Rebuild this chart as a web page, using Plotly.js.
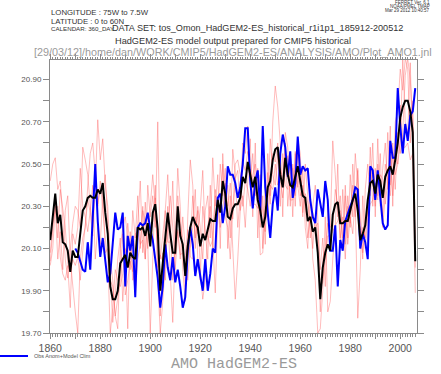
<!DOCTYPE html>
<html>
<head>
<meta charset="utf-8">
<script src="https://cdn.plot.ly/plotly-3.0.1.min.js"></script>
<style>html,body{margin:0;padding:0;background:#fff;}#plot{width:441px;height:374px;}</style>
</head>
<body>
<div id="plot"></div>
<script>
// Years 1860..2006 (annual means)
const yearStart = 1860;
const yearEnd = 2006;
const obsStart = 1870;

// Ensemble mean (black)
const ensembleMean = [
20.14,20.25,20.36,20.22,20.26,20.13,20.12,20.09,19.99,20.09,
20.06,20.06,20.17,20.28,20.30,20.34,20.35,20.34,20.34,20.38,
20.36,20.41,20.27,20.17,19.92,19.86,19.86,19.90,20.03,20.05,
20.07,20.01,20.08,20.06,20.05,20.20,20.19,20.20,20.16,20.22,
20.11,20.27,20.31,20.19,19.90,20.03,20.14,20.27,20.17,20.08,
20.08,20.30,20.16,20.12,19.97,20.11,20.20,20.25,20.22,20.20,
20.11,20.17,20.14,20.19,20.24,20.23,20.23,20.33,20.27,20.42,
20.36,20.25,20.24,20.29,20.31,20.31,20.34,20.44,20.41,20.51,
20.45,20.39,20.44,20.33,20.28,20.20,20.25,20.39,20.42,20.52,
20.57,20.58,20.45,20.39,20.53,20.45,20.40,20.39,20.44,20.49,
20.42,20.35,20.34,20.23,20.25,20.18,20.20,20.08,19.86,20.01,
20.08,20.12,20.09,20.26,20.31,20.32,20.22,20.22,20.23,20.23,
20.28,20.33,20.36,20.28,20.14,20.17,20.21,20.33,20.41,20.42,
20.36,20.45,20.42,20.34,20.44,20.47,20.49,20.45,20.52,20.60,
20.72,20.77,20.80,20.80,20.75,20.65,20.04];

// Obs Anom + Model Clim (blue), 1870..2006
const obsValues = [
20.10,20.08,20.04,20.00,19.99,20.13,20.00,20.23,20.50,20.23,
20.06,20.15,20.05,19.94,19.98,20.12,20.27,20.19,20.20,20.27,
19.92,20.16,20.09,20.16,19.87,20.20,20.22,20.21,20.22,20.27,
20.19,20.14,20.06,19.96,19.82,19.92,20.12,20.01,19.95,20.06,
19.94,20.00,19.92,19.82,19.87,20.09,20.20,20.12,19.97,20.05,
19.97,19.90,20.05,19.90,19.98,20.10,20.08,20.34,20.36,20.22,
20.30,20.49,20.45,20.45,20.41,20.34,20.39,20.50,20.67,20.67,
20.42,20.29,20.42,20.47,20.28,20.68,20.39,20.27,20.15,20.31,
20.39,20.28,20.55,20.64,20.58,20.44,20.56,20.34,20.41,20.63,
20.45,20.49,20.47,20.48,20.33,20.25,20.22,20.38,20.31,20.25,
20.42,20.33,20.09,20.09,20.21,19.92,20.14,20.09,20.23,20.27,
20.30,20.33,20.39,20.38,20.10,20.17,20.13,20.05,20.49,20.47,
20.33,20.47,20.36,20.22,20.19,20.21,20.61,20.53,20.53,20.86,
20.68,20.55,20.69,20.61,20.73,20.75,20.86];

// Individual ensemble members (pink), 1860..2006
const member1 = [
20.42,20.50,20.53,20.38,20.42,20.25,20.05,19.96,20.10,20.22,
20.30,20.28,20.20,20.58,20.52,20.45,20.30,20.20,20.38,20.71,
20.52,20.62,20.40,20.30,20.05,19.95,19.78,19.72,20.10,20.20,
20.25,20.15,20.00,20.28,20.15,20.35,20.10,20.30,20.05,20.40,
20.25,20.35,20.20,20.70,20.05,20.15,20.28,20.45,20.22,19.95,
20.15,20.48,20.30,20.00,19.85,20.25,20.52,20.40,20.10,20.30,
20.20,20.05,20.28,20.35,20.15,20.53,20.30,20.45,20.10,20.55,
20.30,20.40,20.15,20.57,20.45,20.20,20.35,20.60,20.55,20.68,
20.40,20.55,20.35,20.48,20.20,20.35,20.12,20.55,20.35,20.70,
20.87,20.77,20.60,20.25,20.65,20.58,20.30,20.50,20.35,20.62,
20.55,20.25,20.50,20.35,20.15,20.30,20.40,20.25,20.00,20.15,
19.92,20.30,20.20,20.61,20.45,20.25,20.35,20.10,20.40,20.15,
20.45,20.25,20.55,20.40,20.25,20.05,20.38,20.50,20.35,20.60,
20.25,20.62,20.30,20.48,20.60,20.38,20.68,20.30,20.70,20.75,
20.95,20.85,21.00,20.95,20.60,20.80,20.15];
const member2 = [
20.02,20.10,20.30,20.05,20.18,20.00,20.28,20.35,20.05,19.92,
19.80,19.70,20.05,20.15,20.20,20.40,20.55,20.60,20.45,20.30,
20.42,20.28,20.15,20.05,19.70,19.82,20.00,19.95,19.92,19.98,
20.10,19.72,20.18,19.95,20.00,20.22,20.42,20.08,20.32,20.12,
19.70,20.05,20.40,19.95,19.70,19.85,20.05,20.20,20.35,20.20,
20.00,20.18,20.05,20.25,20.10,19.95,20.10,20.20,20.38,20.05,
19.95,20.30,20.18,20.05,20.40,20.15,19.89,20.25,20.50,20.35,
20.48,20.10,20.35,20.10,19.86,20.05,20.28,20.35,20.20,20.42,
20.62,20.25,20.60,20.15,20.45,20.10,20.40,20.30,20.62,20.45,
20.40,20.55,20.30,20.55,20.40,20.38,20.52,20.25,20.55,20.40,
20.30,20.48,20.20,20.10,20.38,20.05,19.95,19.70,19.72,19.90,
20.25,19.80,19.85,20.05,20.20,20.50,20.10,20.38,20.12,20.35,
20.20,20.50,20.30,19.77,20.00,20.35,20.10,20.25,20.58,20.30,
20.48,20.35,20.55,20.20,20.35,20.65,20.40,20.60,20.45,20.50,
20.60,21.00,20.70,20.65,20.98,20.55,19.89];
const member3 = [
20.08,20.22,20.28,20.30,20.06,19.98,19.95,20.02,19.82,20.17,
20.12,20.20,20.48,20.30,20.25,20.18,20.28,20.40,20.05,20.20,
20.12,20.35,20.45,20.23,19.98,19.75,19.88,20.05,20.15,19.85,
20.05,20.22,20.10,20.02,19.88,20.05,20.12,20.28,20.22,20.10,
20.30,20.45,20.30,20.10,19.78,20.08,19.95,20.30,19.98,19.75,
20.10,20.35,20.22,20.15,19.92,20.05,20.12,20.35,20.15,20.28,
20.00,19.86,19.95,20.20,20.30,20.10,20.38,20.30,20.28,20.50,
20.25,20.20,20.05,20.25,20.50,20.52,20.45,20.30,20.42,20.38,
20.30,20.45,20.50,20.40,20.07,20.08,20.30,20.25,20.40,20.38,
20.50,20.40,20.48,20.42,20.60,20.30,20.45,20.48,20.30,20.55,
20.35,20.40,20.30,20.15,20.25,20.10,20.25,20.15,19.80,20.05,
20.10,20.22,20.15,20.20,20.38,20.30,20.15,20.25,20.05,20.30,
20.22,20.40,20.25,20.48,20.10,20.20,20.15,20.30,20.40,20.45,
20.30,20.50,20.38,20.25,20.50,20.42,20.35,20.55,20.38,20.65,
20.55,20.65,20.92,21.00,20.90,20.70,20.01];
const member4 = [
20.04,20.18,20.33,20.15,20.38,20.29,20.20,20.03,19.99,20.05,
20.02,20.06,19.95,20.09,20.23,20.33,20.27,20.16,20.48,20.31,
20.38,20.39,20.08,20.10,19.95,19.92,19.78,19.88,19.95,20.17,
19.88,19.95,20.04,19.99,20.17,20.18,20.12,20.14,20.05,20.26,
20.19,20.23,20.34,20.01,20.07,20.04,20.28,20.13,20.13,20.42,
20.07,20.19,20.07,20.08,20.01,20.19,20.06,20.05,20.25,20.17,
20.29,20.47,20.15,20.16,20.11,20.14,20.35,20.32,20.20,20.28,
20.41,20.30,20.41,20.24,20.43,20.47,20.28,20.51,20.47,20.56,
20.48,20.31,20.31,20.29,20.40,20.27,20.18,20.46,20.31,20.55,
20.51,20.60,20.42,20.34,20.47,20.54,20.33,20.33,20.56,20.39,
20.48,20.27,20.36,20.32,20.22,20.27,20.20,20.22,19.92,19.94,
20.05,20.16,20.16,20.18,20.21,20.23,20.28,20.15,20.35,20.12,
20.25,20.17,20.34,20.47,20.21,20.08,20.21,20.27,20.31,20.33,
20.41,20.33,20.45,20.43,20.31,20.43,20.53,20.35,20.55,20.50,
20.78,20.58,20.58,20.60,20.52,20.55,20.11];

// Tick labels
const yTickVals = [19.7,19.8,19.9,20.0,20.1,20.2,20.3,20.4,20.5,20.6,20.7,20.8,20.9];
const yTickText = ["19.70","","19.90","","20.10","","20.30","","20.50","","20.70","","20.90"];
const xTickVals = [1860,1870,1880,1890,1900,1910,1920,1930,1940,1950,1960,1970,1980,1990,2000];
const xTickText = ["1860","","1880","","1900","","1920","","1940","","1960","","1980","","2000"];

const years = [];
for (let y = yearStart; y <= yearEnd; y++) years.push(y);
const obsYears = [];
for (let y = obsStart; y <= yearEnd; y++) obsYears.push(y);

const pink = 'rgba(255,90,90,0.45)';
const traces = [];
[member1, member2, member3, member4].forEach(m => {
  traces.push({x: years, y: m, type: 'scatter', mode: 'lines',
    line: {color: pink, width: 0.9}, hoverinfo: 'skip', showlegend: false});
});
traces.push({x: obsYears, y: obsValues, type: 'scatter', mode: 'lines',
  line: {color: '#0000ff', width: 2}, showlegend: false});
traces.push({x: years, y: ensembleMean, type: 'scatter', mode: 'lines',
  line: {color: '#000000', width: 2}, showlegend: false});

// plot area in pixels: left 50, right 417, top 60, bottom 333
const L = 50, R = 417, T = 60, B = 333;
const px = v => (v - L) / (R - L);
const py = v => (B - v) / (B - T);

const axisGray = '#8a8a8a';
const labelGray = '#555555';

const annotations = [
  {text: 'LONGITUDE : 75W to 7.5W', x: px(50), y: py(12.5), xanchor: 'left', yanchor: 'middle', font: {size: 7.8, color: '#333', family: 'Liberation Sans'}},
  {text: 'LATITUDE : 0 to 60N', x: px(50), y: py(21), xanchor: 'left', yanchor: 'middle', font: {size: 7.8, color: '#333', family: 'Liberation Sans'}},
  {text: 'CALENDAR: 360_DAY', x: px(50), y: py(29), xanchor: 'left', yanchor: 'middle', font: {size: 6.2, color: '#333', family: 'Liberation Sans'}},
  {text: 'DATA SET: tos_Omon_HadGEM2-ES_historical_r1i1p1_185912-200512', x: px(111), y: py(28.5), xanchor: 'left', yanchor: 'middle', font: {size: 9.1, color: '#333', family: 'Liberation Sans'}},
  {text: 'HadGEM2-ES model output prepared for CMIP5 historical', x: px(233), y: py(40.5), xanchor: 'center', yanchor: 'middle', font: {size: 9.2, color: '#333', family: 'Liberation Sans'}},
  {text: '[29/03/12]/home/dan/WORK/CMIP5/HadGEM2-ES/ANALYSIS/AMO/Plot_AMO1.jnl', x: px(233), y: py(52), xanchor: 'center', yanchor: 'middle', font: {size: 10.8, color: '#9a9a9a', family: 'Liberation Sans'}},
  {text: 'FERRET Ver. 6.1', x: px(431), y: py(2.5), xanchor: 'right', yanchor: 'middle', font: {size: 4.5, color: '#333', family: 'Liberation Sans'}},
  {text: 'NOAA/PMEL TMAP', x: px(431), y: py(6.5), xanchor: 'right', yanchor: 'middle', font: {size: 4.5, color: '#333', family: 'Liberation Sans'}},
  {text: 'Mar 29 2012 10:40:57', x: px(431), y: py(10.5), xanchor: 'right', yanchor: 'middle', font: {size: 4.5, color: '#333', family: 'Liberation Sans'}},
  {text: 'Obs Anom+Model Clim', x: px(33), y: py(356), xanchor: 'left', yanchor: 'middle', font: {size: 5.5, color: labelGray, family: 'Liberation Sans'}},
  {text: 'AMO HadGEM2-ES', x: px(234), y: py(374), xanchor: 'center', yanchor: 'bottom', font: {size: 15, color: '#9a9a9a', family: 'Liberation Mono'}}
].map(a => Object.assign({xref: 'paper', yref: 'paper', showarrow: false, borderpad: 0}, a));

const layout = {
  width: 441, height: 374,
  margin: {l: L, r: 441 - R, t: T, b: 374 - B, pad: 0},
  paper_bgcolor: '#ffffff', plot_bgcolor: '#ffffff',
  showlegend: false,
  xaxis: {
    range: [1859.9, 2006.7], showgrid: false, zeroline: false,
    showline: true, linecolor: axisGray, linewidth: 1, mirror: 'ticks',
    ticks: 'outside', ticklen: 5, tickcolor: axisGray, tickwidth: 1,
    tickmode: 'array', tickvals: xTickVals, ticktext: xTickText,
    tickfont: {size: 10.5, color: labelGray, family: 'Liberation Sans'},
    minor: {dtick: 1, tick0: 1860, ticks: 'outside', ticklen: 2.5, tickcolor: axisGray, tickwidth: 1, showgrid: false}
  },
  yaxis: {
    range: [19.7, 20.993], showgrid: false, zeroline: false,
    showline: true, linecolor: axisGray, linewidth: 1, mirror: 'ticks',
    ticks: 'outside', ticklen: 6, tickcolor: axisGray, tickwidth: 1,
    tickmode: 'array', tickvals: yTickVals, ticktext: yTickText,
    tickfont: {size: 8, color: labelGray, family: 'Liberation Sans'}
  },
  shapes: [
    {type: 'line', xref: 'paper', yref: 'paper', x0: px(0), x1: px(28), y0: py(356), y1: py(356), line: {color: '#0000ff', width: 2}}
  ],
  annotations: annotations
};

Plotly.newPlot('plot', traces, layout, {staticPlot: true, displayModeBar: false});
</script>
</body>
</html>
